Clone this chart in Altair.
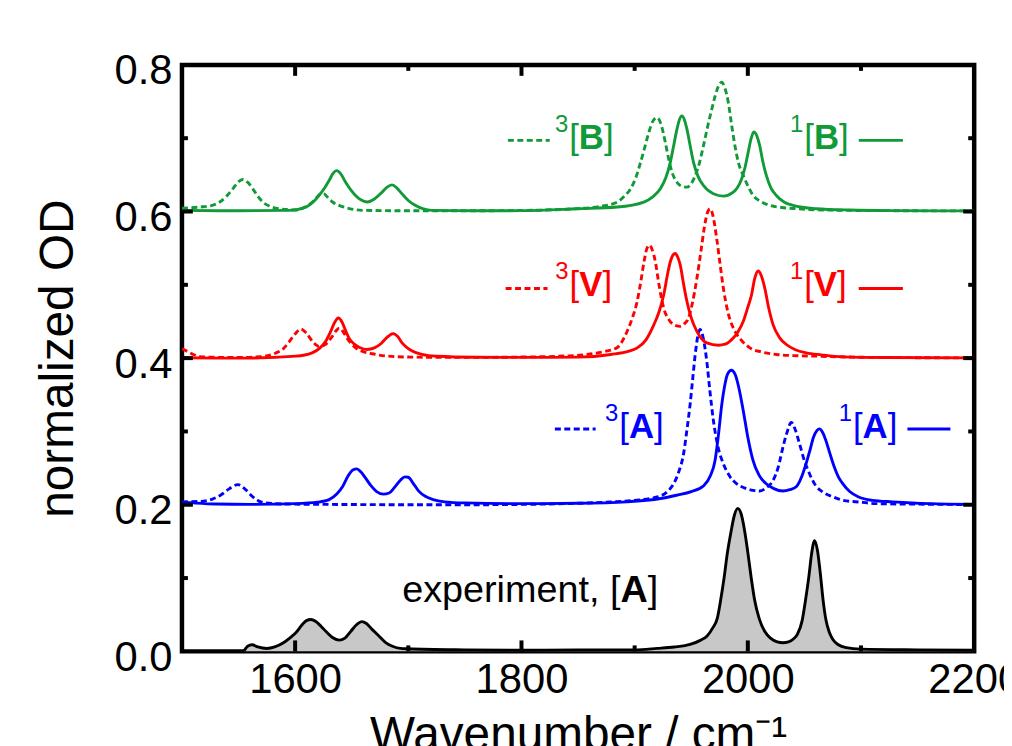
import altair as alt
import pandas as pd

# ---------------- data ----------------
# experiment, [A]
exp_x = [1555, 1558, 1562, 1567, 1575, 1582, 1590, 1596, 1601, 1606, 1610, 1614, 1618, 1623, 1628, 1633,
         1639, 1644, 1649, 1654, 1659, 1663, 1668, 1674, 1680, 1686, 1693, 1700, 1750, 1800, 1850, 1900,
         1920, 1935, 1949, 1958, 1964, 1969, 1973, 1976, 1979, 1982, 1985, 1988, 1991, 1994, 1997, 2000,
         2003, 2006, 2010, 2015, 2020, 2026, 2031, 2036, 2040, 2044, 2048, 2051, 2054, 2056.5, 2059,
         2061.5, 2064, 2066.5, 2069, 2072, 2075, 2080, 2087, 2100, 2150, 2200]
exp_y = [0.001, 0.007, 0.009, 0.006, 0.004, 0.006, 0.012, 0.019, 0.026, 0.036, 0.042, 0.0434, 0.041, 0.034,
         0.026, 0.019, 0.0153, 0.018, 0.027, 0.036, 0.0405, 0.038, 0.030, 0.021, 0.012, 0.007, 0.004, 0.0035,
         0.002, 0.0015, 0.002, 0.002, 0.004, 0.006, 0.0095, 0.015, 0.021, 0.032, 0.045, 0.07, 0.10, 0.135,
         0.162, 0.185, 0.195, 0.188, 0.166, 0.135, 0.10, 0.07, 0.045, 0.027, 0.018, 0.013, 0.0118, 0.013,
         0.0165, 0.024, 0.042, 0.07, 0.103, 0.135, 0.151, 0.138, 0.107, 0.07, 0.043, 0.026, 0.0165, 0.009,
         0.005, 0.003, 0.002, 0.0015]

# 1[A] (blue solid)
a1_x = [1500, 1510, 1530, 1560, 1600, 1620, 1630, 1637, 1642, 1647, 1651, 1654.5, 1658, 1662, 1667, 1672,
        1678, 1683, 1688, 1693, 1697, 1700, 1704, 1709, 1715, 1722, 1732, 1750, 1800, 1850, 1893, 1923,
        1937, 1950, 1961, 1967, 1971, 1974, 1977, 1979.5, 1982, 1985.5, 1989, 1992, 1996, 2000, 2004.5,
        2010, 2016, 2023, 2031, 2037, 2043, 2048, 2051.5, 2055, 2058, 2061, 2063.3, 2066, 2069, 2072.5,
        2076.4, 2080, 2084, 2090, 2098, 2110, 2128, 2160, 2200]
a1_y = [0.2035, 0.2025, 0.201, 0.2005, 0.2015, 0.2035, 0.207, 0.215, 0.225, 0.240, 0.2475, 0.249, 0.245,
        0.237, 0.226, 0.218, 0.2145, 0.216, 0.224, 0.2335, 0.238, 0.2375, 0.230, 0.219, 0.2115, 0.207, 0.204,
        0.2025, 0.2015, 0.202, 0.204, 0.2085, 0.213, 0.218, 0.226, 0.240, 0.260, 0.295, 0.337, 0.362, 0.378,
        0.3835, 0.377, 0.360, 0.328, 0.292, 0.261, 0.240, 0.229, 0.222, 0.2187, 0.2205, 0.225, 0.240, 0.256,
        0.275, 0.292, 0.301, 0.3035, 0.299, 0.2875, 0.270, 0.2515, 0.238, 0.2285, 0.218, 0.2105, 0.206,
        0.204, 0.2015, 0.2005]

# 3[A] (blue dashed)
a3_x = [1500, 1515, 1527.5, 1535, 1542, 1549.4, 1556, 1562.6, 1568, 1574, 1590, 1650, 1700, 1750, 1800,
        1850, 1879, 1900, 1920, 1929, 1934.5, 1939, 1943.2, 1946, 1949, 1951.5, 1953.5, 1955.8, 1957.8,
        1960.5, 1963.7, 1966.5, 1969.6, 1973.5, 1978.4, 1984, 1990, 1997, 2004.7, 2010.5, 2016, 2022.3,
        2027, 2031, 2034.5, 2038.4, 2042, 2045.7, 2050, 2054.5, 2060, 2066.2, 2075, 2084, 2100, 2113,
        2150, 2200]
a3_y = [0.204, 0.2045, 0.208, 0.214, 0.222, 0.2274, 0.221, 0.2106, 0.205, 0.2024, 0.201, 0.2003, 0.200,
        0.200, 0.2005, 0.202, 0.2038, 0.206, 0.2106, 0.218, 0.2287, 0.245, 0.2694, 0.300, 0.337, 0.375,
        0.405, 0.430, 0.439, 0.428, 0.396, 0.355, 0.3146, 0.280, 0.2559, 0.239, 0.2287, 0.223, 0.2197,
        0.2187, 0.223, 0.2332, 0.252, 0.2784, 0.298, 0.3123, 0.302, 0.283, 0.260, 0.2423, 0.226, 0.2174,
        0.211, 0.2061, 0.2035, 0.2016, 0.2008, 0.2003]

# 1[V] (red solid)
v1_x = [1500, 1550, 1600.7, 1615, 1622, 1627, 1631, 1635, 1638.2, 1641.5, 1644.5, 1647.5, 1652, 1657,
        1663.6, 1670, 1676, 1681, 1686.5, 1691, 1694, 1697.4, 1703, 1712, 1725, 1760, 1800, 1850, 1879,
        1895, 1902.3, 1910, 1917, 1921.5, 1925.7, 1929, 1931.5, 1933.8, 1935.9, 1938, 1940.3, 1943,
        1946.2, 1950, 1955, 1963.7, 1974, 1980, 1985.7, 1991, 1996, 2000, 2003.3, 2006, 2009.1, 2012,
        2015, 2018.5, 2022.3, 2028, 2034, 2042, 2051.6, 2065, 2083.8, 2120, 2200]
v1_y = [0.4005, 0.400, 0.4027, 0.4072, 0.414, 0.423, 0.435, 0.449, 0.4547, 0.449, 0.438, 0.4276, 0.4195,
        0.4145, 0.4118, 0.414, 0.420, 0.428, 0.4335, 0.429, 0.422, 0.4163, 0.410, 0.405, 0.4025, 0.4012,
        0.401, 0.4014, 0.405, 0.4095, 0.414, 0.425, 0.4457, 0.463, 0.4864, 0.514, 0.5315, 0.5405, 0.5428,
        0.538, 0.527, 0.503, 0.4773, 0.455, 0.4366, 0.4208, 0.4176, 0.419, 0.4253, 0.435, 0.4502, 0.4695,
        0.4864, 0.508, 0.5189, 0.512, 0.4953, 0.468, 0.4457, 0.428, 0.4186, 0.4115, 0.4072, 0.4045,
        0.4018, 0.4008, 0.4003]

# 3[V] (red dashed)
v3_x = [1500, 1505, 1510, 1516, 1522, 1550, 1570, 1583, 1590, 1595, 1600, 1605, 1610, 1615.3, 1621, 1627,
        1632, 1636, 1639, 1642, 1646, 1653.4, 1660, 1668, 1680, 1700, 1750, 1800, 1840, 1858, 1873,
        1884.7, 1889, 1893.5, 1898, 1902.3, 1905.5, 1908.1, 1910.5, 1913, 1915.5, 1918.3, 1921.5, 1925.7,
        1930, 1934.5, 1940.3, 1944, 1947.6, 1951, 1955, 1958.5, 1961.4, 1964, 1966.6, 1969.5, 1972.5,
        1975.5, 1978.4, 1982.5, 1987.2, 1994, 2001.8, 2012, 2025.2, 2040, 2060.4, 2100, 2200]
v3_y = [0.413, 0.409, 0.405, 0.402, 0.4014, 0.4008, 0.402, 0.407, 0.4135, 0.423, 0.433, 0.4397, 0.434,
        0.423, 0.416, 0.419, 0.428, 0.437, 0.441, 0.437, 0.427, 0.414, 0.409, 0.406, 0.403, 0.4015, 0.401,
        0.4015, 0.403, 0.405, 0.409, 0.4145, 0.423, 0.437, 0.455, 0.478, 0.505, 0.530, 0.548, 0.554,
        0.548, 0.5315, 0.500, 0.468, 0.453, 0.4457, 0.4434, 0.447, 0.4547, 0.475, 0.5089, 0.545, 0.5767,
        0.597, 0.6038, 0.592, 0.5631, 0.528, 0.4953, 0.462, 0.441, 0.425, 0.414, 0.4085, 0.405, 0.4035,
        0.4027, 0.4012, 0.4003]

# 1[B] (green solid)
b1_x = [1500, 1550, 1595, 1609.5, 1616, 1621.2, 1626, 1630, 1633.5, 1636.7, 1640, 1644.6, 1649, 1653.4,
        1658, 1663.6, 1670, 1676.8, 1681, 1685.6, 1690, 1694.4, 1700, 1706.1, 1720.7, 1760, 1800, 1849.6,
        1884.7, 1908.1, 1916, 1922.7, 1927.5, 1931.5, 1934.5, 1937.4, 1939.5, 1941.8, 1944, 1946.2, 1949,
        1952, 1956, 1960.8, 1969.6, 1978.4, 1987.2, 1991, 1994.5, 1997.5, 2000.3, 2003, 2005.3, 2008,
        2010.5, 2013, 2016.4, 2020.5, 2025.2, 2032, 2039.9, 2060.4, 2090, 2130, 2200]
b1_y = [0.6015, 0.601, 0.6016, 0.6061, 0.613, 0.622, 0.632, 0.6422, 0.652, 0.6558, 0.652, 0.640, 0.630,
        0.622, 0.616, 0.6129, 0.617, 0.6264, 0.633, 0.6364, 0.632, 0.6242, 0.615, 0.6084, 0.6016, 0.601,
        0.6012, 0.6038, 0.6061, 0.6129, 0.620, 0.631, 0.646, 0.667, 0.690, 0.7123, 0.725, 0.7304, 0.725,
        0.7123, 0.690, 0.667, 0.648, 0.6355, 0.6242, 0.621, 0.6264, 0.633, 0.6445, 0.660, 0.6807, 0.700,
        0.7087, 0.703, 0.6898, 0.670, 0.649, 0.632, 0.6219, 0.613, 0.6084, 0.6038, 0.602, 0.6012, 0.6008]

# 3[B] (green dashed)
b3_x = [1500, 1515.8, 1526, 1533.4, 1539.5, 1545, 1549.5, 1553.8, 1558, 1562.6, 1567, 1571.4, 1578, 1586,
        1600.7, 1610, 1615.3, 1619, 1622.7, 1625.5, 1628.5, 1633, 1638.8, 1648, 1659.3, 1700, 1750, 1800,
        1850, 1870, 1884.7, 1891, 1896.4, 1901, 1905.2, 1909, 1912.5, 1916, 1919.8, 1923.5, 1927.1, 1930,
        1933, 1936.5, 1940.3, 1946.2, 1950, 1953.5, 1957, 1960.8, 1964.5, 1968.1, 1971, 1974, 1976.9,
        1979.8, 1982.8, 1985.5, 1988.6, 1992, 1996, 2000, 2004.7, 2011, 2019.3, 2030, 2042.8, 2070, 2120,
        2200]
b3_y = [0.6047, 0.6061, 0.608, 0.6129, 0.621, 0.631, 0.640, 0.6436, 0.640, 0.631, 0.621, 0.6129, 0.607,
        0.6038, 0.602, 0.607, 0.6129, 0.619, 0.6242, 0.624, 0.6197, 0.613, 0.6084, 0.604, 0.6016, 0.601,
        0.601, 0.6015, 0.604, 0.607, 0.6129, 0.621, 0.631, 0.646, 0.667, 0.688, 0.7078, 0.723, 0.7281,
        0.718, 0.6942, 0.672, 0.6536, 0.642, 0.6355, 0.6332, 0.638, 0.649, 0.665, 0.6898, 0.716, 0.7394,
        0.757, 0.771, 0.7765, 0.768, 0.7485, 0.720, 0.6898, 0.665, 0.649, 0.635, 0.6219, 0.614, 0.6084,
        0.6055, 0.6038, 0.602, 0.6012, 0.6008]

# axis ticks / labels
x_tick_labels = [1600, 1800, 2000, 2200]
y_tick_labels = [0.0, 0.2, 0.4, 0.6, 0.8]
x_major_ticks = [1600, 1800, 2000]
x_minor_ticks = [1700, 1900, 2100]
y_major_ticks = [0.2, 0.4, 0.6]
y_minor_ticks = [0.1, 0.3, 0.5, 0.7]

# ---------------- styling ----------------
W, H = 797, 590
FONT = "Liberation Sans"
GREEN = "#109A38"
RED = "#FF0000"
BLUE = "#0000FF"
LW = 2.9
DASH = [6, 3.5]

xs = alt.Scale(domain=[1500, 2200], nice=False, zero=False)
ys = alt.Scale(domain=[0, 0.8], nice=False, zero=False)

x_axis = alt.Axis(values=x_tick_labels, format="d", ticks=False, tickSize=0, domain=False, grid=False,
                  labelFont=FONT, labelFontSize=42, labelColor="black", labelPadding=8,
                  labelFlush=False, labelOverlap=False,
                  title="Wavenumber / cm\u207b\u00b9", titleFont=FONT, titleFontSize=48,
                  titleFontWeight="normal", titleColor="black", titlePadding=12)
y_axis = alt.Axis(values=y_tick_labels, format=".1f", ticks=False, tickSize=0, domain=False, grid=False,
                  labelFont=FONT, labelFontSize=42, labelColor="black", labelPadding=10,
                  labelOffset=6, labelFlush=False, labelOverlap=False,
                  title="normalized OD", titleFont=FONT, titleFontSize=48,
                  titleFontWeight="normal", titleColor="black", titlePadding=32)


def X(field="x"):
    return alt.X(f"{field}:Q", scale=xs, axis=x_axis)


def Y(field="y"):
    return alt.Y(f"{field}:Q", scale=ys, axis=y_axis)


def curve(xv, yv, color, dashed=False):
    df = pd.DataFrame({"x": xv, "y": yv})
    kw = dict(color=color, strokeWidth=LW, interpolate="monotone", clip=True)
    if dashed:
        kw["strokeDash"] = DASH
    return alt.Chart(df).mark_line(**kw).encode(x=X(), y=Y())


exp_df = pd.DataFrame({"x": exp_x, "y": exp_y})
exp_area = alt.Chart(exp_df).mark_area(color="#C8C8C8", interpolate="monotone").encode(
    x=X(), y=Y(), y2=alt.datum(0))
exp_line = alt.Chart(exp_df).mark_line(color="black", strokeWidth=LW, interpolate="monotone").encode(
    x=X(), y=Y())

layers = [exp_area, exp_line,
          curve(a3_x, a3_y, BLUE, True), curve(a1_x, a1_y, BLUE),
          curve(v3_x, v3_y, RED, True), curve(v1_x, v1_y, RED),
          curve(b3_x, b3_y, GREEN, True), curve(b1_x, b1_y, GREEN)]

# inward ticks on all four sides
TW = 4
for vals, L in ((x_major_ticks, 11), (x_minor_ticks, 6)):
    d = pd.DataFrame({"v": vals})
    layers.append(alt.Chart(d).mark_rule(color="black", strokeWidth=TW).encode(
        x=X("v"), y=alt.value(H), y2=alt.value(H - L)))
    layers.append(alt.Chart(d).mark_rule(color="black", strokeWidth=TW).encode(
        x=X("v"), y=alt.value(0), y2=alt.value(L)))
for vals, L in ((y_major_ticks, 11), (y_minor_ticks, 6)):
    d = pd.DataFrame({"v": vals})
    layers.append(alt.Chart(d).mark_rule(color="black", strokeWidth=TW).encode(
        y=Y("v"), x=alt.value(0), x2=alt.value(L)))
    layers.append(alt.Chart(d).mark_rule(color="black", strokeWidth=TW).encode(
        y=Y("v"), x=alt.value(W), x2=alt.value(W - L)))


# ---------------- annotations ----------------
FS = 35
SUP = 24
BR = 0.278 * FS


def text(x, y, s, color, size=FS, weight="normal", align="center", dx=0):
    d = pd.DataFrame({"x": [x], "y": [y], "t": [s]})
    return alt.Chart(d).mark_text(font=FONT, fontSize=size, fontWeight=weight, color=color,
                                  align=align, baseline="alphabetic", dx=dx).encode(
        x=X(), y=Y(), text="t:N")


def label(xc, yb, sup, letter, color, wfrac):
    w = wfrac * FS
    return [
        text(xc, yb, letter, color, weight="bold"),
        text(xc, yb, "[", color, align="right", dx=-w / 2),
        text(xc, yb, "]", color, align="left", dx=w / 2),
        text(xc, yb + 0.023, sup, color, size=SUP, align="right", dx=-(w / 2 + BR + 1)),
    ]


def key_line(x1, x2, y, color, dashed):
    d = pd.DataFrame({"x": [x1], "x2": [x2], "y": [y]})
    kw = dict(color=color, strokeWidth=LW)
    if dashed:
        kw["strokeDash"] = DASH
    return alt.Chart(d).mark_rule(**kw).encode(x=X(), x2="x2:Q", y=Y())


# green
layers += [key_line(1788, 1825, 0.697, GREEN, True)]
layers += label(1861.8, 0.685, "3", "B", GREEN, 0.722)
layers += label(2069.5, 0.685, "1", "B", GREEN, 0.722)
layers += [key_line(2098, 2137, 0.697, GREEN, False)]
# red
layers += [key_line(1786, 1823, 0.495, RED, True)]
layers += label(1861.3, 0.485, "3", "V", RED, 0.667)
layers += label(2068.6, 0.485, "1", "V", RED, 0.667)
layers += [key_line(2098, 2137, 0.495, RED, False)]
# blue
layers += [key_line(1829.5, 1865.5, 0.3033, BLUE, True)]
layers += label(1906, 0.291, "3", "A", BLUE, 0.722)
layers += label(2112.5, 0.291, "1", "A", BLUE, 0.722)
layers += [key_line(2141, 2179, 0.3033, BLUE, False)]
# experiment
EFS = 38
layers += [
    text(1899.5, 0.0673, "A", "black", size=EFS, weight="bold"),
    text(1899.5, 0.0673, "experiment, [", "black", size=EFS, align="right", dx=-0.722 * EFS / 2),
    text(1899.5, 0.0673, "]", "black", size=EFS, align="left", dx=0.722 * EFS / 2),
]

chart = alt.layer(*layers).properties(
    width=W, height=H,
    padding={"left": 175, "top": 55, "right": 30, "bottom": 100},
    autosize=alt.AutoSizeParams(type="none"),
    background="white",
).configure_view(stroke="black", strokeWidth=4.5)

chart.save("out.html", embed_options={"renderer": "svg", "actions": False})
